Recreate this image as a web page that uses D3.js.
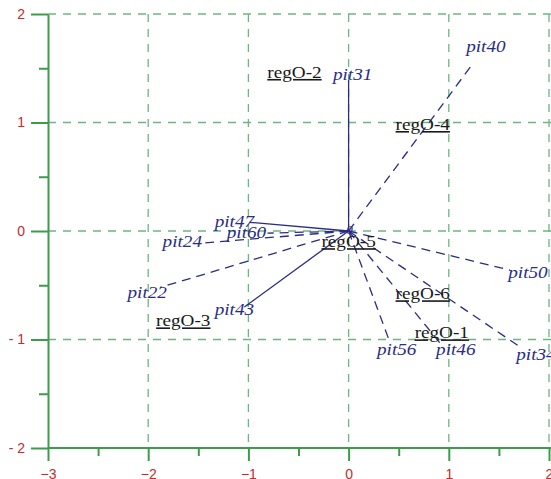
<!DOCTYPE html>
<html>
<head>
<meta charset="utf-8">
<script src="https://cdn.jsdelivr.net/npm/d3@7"></script>
<style>
  body { margin: 0; background: #fff; }
  svg { display: block; }
</style>
</head>
<body>
<div id="chart"></div>
<script>
// species / variable arrows (biplot scores)
const pitNames = ['pit31', 'pit40', 'pit47', 'pit60', 'pit24', 'pit22', 'pit43', 'pit50', 'pit56', 'pit46', 'pit34'];
const pitX = [0.00, 1.23, -0.99, -0.81, -1.43, -1.88, -1.04, 1.61, 0.41, 0.91, 1.73];
const pitY = [1.39, 1.53, 0.08, -0.02, -0.11, -0.52, -0.70, -0.36, -1.02, -1.03, -1.08];
const pitDashed = [false, true, false, true, true, true, false, true, true, true, true];

// region centroids
const regNames = ['regO-1', 'regO-2', 'regO-3', 'regO-4', 'regO-5', 'regO-6'];
const regX = [0.93, -0.54, -1.65, 0.74, 0.00, 0.74];
const regY = [-0.99, 1.41, -0.88, 0.93, -0.15, -0.63];

const xTicks = [-3, -2, -1, 0, 1, 2];
const yTicks = [-2, -1, 0, 1, 2];
const xMinor = [-2.5, -1.5, -0.5, 0.5, 1.5];
const yMinor = [-1.5, -0.5, 0.5, 1.5];

// label nudges in px from arrow tip (label centre, baseline)
const labelNudge = {
  pit31: [4, 0], pit40: [14, -13], pit47: [-15, 5], pit60: [-21, 5],
  pit24: [-23, 4], pit22: [-13, 11], pit43: [-10, 8], pit50: [18, 8],
  pit56: [7, 13], pit46: [16, 12], pit34: [14, 12]
};

const W = 551, H = 479;
const axisColor = '#3c9c4a';
const gridColor = '#6db582';
const labelRed = '#c62a2f';
const navy = '#2a2c86';

const x = d3.scaleLinear().domain([-3, 2]).range([48, 549]);
const y = d3.scaleLinear().domain([-2, 2]).range([448, 14]);

const svg = d3.select('#chart').append('svg')
  .attr('width', W).attr('height', H);

// grid
svg.append('g').selectAll('line')
  .data(yTicks.filter(d => d > -2))
  .enter().append('line')
  .attr('x1', x(-3)).attr('x2', W)
  .attr('y1', d => y(d)).attr('y2', d => y(d))
  .attr('stroke', gridColor).attr('stroke-width', 1.3)
  .attr('stroke-dasharray', '8,7');

svg.append('g').selectAll('line')
  .data(xTicks.filter(d => d > -3))
  .enter().append('line')
  .attr('x1', d => x(d)).attr('x2', d => x(d))
  .attr('y1', y(2)).attr('y2', y(-2))
  .attr('stroke', gridColor).attr('stroke-width', 1.3)
  .attr('stroke-dasharray', '8,7');

// axes
const tickFmtY = d => d < 0 ? '- ' + Math.abs(d) : String(d);

const yAxis = svg.append('g')
  .attr('transform', `translate(${x(-3)},0)`)
  .call(d3.axisLeft(y).tickValues(yTicks).tickSize(17).tickSizeOuter(0).tickPadding(6).tickFormat(tickFmtY));
svg.append('g')
  .attr('transform', `translate(${x(-3)},0)`)
  .call(d3.axisLeft(y).tickValues(yMinor).tickSize(9).tickSizeOuter(0).tickFormat(''))
  .select('.domain').remove();

const xAxis = svg.append('g')
  .attr('transform', `translate(0,${y(-2)})`)
  .call(d3.axisBottom(x).tickValues(xTicks).tickSize(13).tickSizeOuter(0).tickPadding(8).tickFormat(d3.format('d')));
svg.append('g')
  .attr('transform', `translate(0,${y(-2)})`)
  .call(d3.axisBottom(x).tickValues(xMinor).tickSize(8).tickSizeOuter(0).tickFormat(''))
  .select('.domain').remove();

svg.selectAll('.domain, .tick line')
  .attr('stroke', axisColor).attr('stroke-width', 2);
xAxis.select('.domain').attr('d', `M${x(-3)},0H${W}`);
svg.selectAll('.tick text')
  .attr('fill', labelRed)
  .style('font-family', '"Liberation Sans", Arial, sans-serif')
  .style('font-size', '14px');

// arrows
const pits = pitNames.map((n, i) => ({ name: n, x: pitX[i], y: pitY[i], dashed: pitDashed[i] }));

svg.append('g').selectAll('line')
  .data(pits)
  .enter().append('line')
  .attr('x1', x(0)).attr('y1', y(0))
  .attr('x2', d => x(d.x)).attr('y2', d => y(d.y))
  .attr('stroke', navy).attr('stroke-width', 1.3)
  .attr('stroke-dasharray', d => d.dashed ? '9,6' : null);

const serif = '"Liberation Serif", "Times New Roman", serif';

svg.append('g').selectAll('g')
  .data(pits)
  .enter().append('g')
  .attr('transform', d => {
    const n = labelNudge[d.name];
    return `translate(${x(d.x) + n[0]},${y(d.y) + n[1]}) scale(1.2,1)`;
  })
  .append('text')
  .attr('text-anchor', 'middle')
  .attr('fill', navy)
  .style('font-family', serif)
  .style('font-style', 'italic')
  .style('font-size', '16px')
  .text(d => d.name);

// origin marker
svg.append('text')
  .attr('x', x(0) + 1).attr('y', y(0) + 3)
  .attr('text-anchor', 'middle')
  .attr('fill', navy)
  .style('font-family', serif)
  .style('font-style', 'italic')
  .style('font-size', '13px')
  .text('0');

// region labels
const regs = regNames.map((n, i) => ({ name: n, x: regX[i], y: regY[i] }));

svg.append('g').selectAll('g')
  .data(regs)
  .enter().append('g')
  .attr('transform', d => `translate(${x(d.x)},${y(d.y)}) scale(1.2,1)`)
  .append('text')
  .attr('text-anchor', 'middle')
  .attr('fill', '#1a1a1a')
  .style('font-family', serif)
  .style('font-size', '16px')
  .style('text-decoration', 'underline')
  .text(d => d.name);
</script>
</body>
</html>
